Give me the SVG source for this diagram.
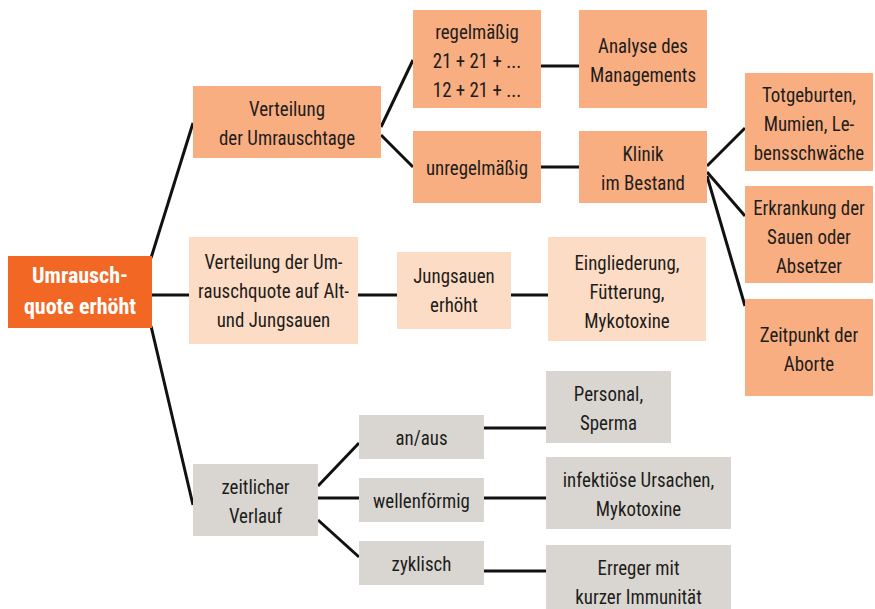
<svg xmlns="http://www.w3.org/2000/svg" width="875" height="609" viewBox="0 0 875 609">
<style>
.t{font-family:"Roboto Condensed","Liberation Sans Narrow","DejaVu Sans Condensed","Liberation Sans",sans-serif;font-size:21px;fill:#1d1d1b;text-anchor:middle;transform-box:fill-box;transform-origin:center;transform:scaleX(0.9)}
.w{font-family:"Roboto Condensed","Liberation Sans Narrow","Liberation Sans",sans-serif;font-size:22px;font-weight:bold;fill:#ffffff;text-anchor:middle}
.root{fill:#f26724}
.mid{fill:#f9ae82}
.light{fill:#fddcc5}
.grey{fill:#d9d6d1}
.c line{stroke:#111;stroke-width:3;stroke-linecap:butt}
</style>
<rect width="875" height="609" fill="#ffffff"/>
<g class="c" id="connectors">
<line x1="151" y1="258" x2="193" y2="123"/>
<line x1="152" y1="295" x2="189" y2="295"/>
<line x1="151" y1="326" x2="193" y2="505"/>
<line x1="381" y1="127" x2="413" y2="60"/>
<line x1="381" y1="135" x2="413" y2="167"/>
<line x1="541" y1="66" x2="579" y2="66"/>
<line x1="541" y1="167" x2="579" y2="167"/>
<line x1="707" y1="166" x2="745" y2="128"/>
<line x1="707" y1="172" x2="745" y2="216"/>
<line x1="707" y1="176" x2="745" y2="306"/>
<line x1="358" y1="295" x2="397" y2="295"/>
<line x1="511" y1="295" x2="548" y2="295"/>
<line x1="318" y1="486" x2="359" y2="443"/>
<line x1="318" y1="498" x2="359" y2="498"/>
<line x1="318" y1="520" x2="359" y2="557"/>
<line x1="484" y1="428" x2="546" y2="428"/>
<line x1="484" y1="498" x2="546" y2="498"/>
<line x1="484" y1="571" x2="546" y2="571"/>
</g>
<g id="root">
<rect class="root" x="8" y="256" width="144" height="72"/>
<text class="w" x="80" y="283">Umrausch-</text>
<text class="w" x="80" y="314">quote erhöht</text>
</g>
<g id="umrauschtage">
<rect class="mid" x="193" y="86" width="188" height="72"/>
<text class="t" x="287" y="116">Verteilung</text>
<text class="t" x="287" y="145">der Umrauschtage</text>
</g>
<g id="regelmaessig">
<rect class="mid" x="413" y="10" width="128" height="98"/>
<text class="t" x="477" y="39">regelmäßig</text>
<text class="t" x="477" y="68">21 + 21 + ...</text>
<text class="t" x="477" y="97">12 + 21 + ...</text>
</g>
<g id="analyse">
<rect class="mid" x="579" y="10" width="128" height="98"/>
<text class="t" x="643" y="53">Analyse des</text>
<text class="t" x="643" y="82">Managements</text>
</g>
<g id="unregelmaessig">
<rect class="mid" x="413" y="131" width="128" height="72"/>
<text class="t" x="477" y="175">unregelmäßig</text>
</g>
<g id="klinik">
<rect class="mid" x="579" y="131" width="128" height="72"/>
<text class="t" x="643" y="161">Klinik</text>
<text class="t" x="643" y="190">im Bestand</text>
</g>
<g id="totgeburten">
<rect class="mid" x="745" y="73" width="128" height="98"/>
<text class="t" x="809" y="102">Totgeburten,</text>
<text class="t" x="809" y="131">Mumien, Le-</text>
<text class="t" x="809" y="160">bensschwäche</text>
</g>
<g id="erkrankung">
<rect class="mid" x="745" y="186" width="128" height="97"/>
<text class="t" x="809" y="215">Erkrankung der</text>
<text class="t" x="809" y="244">Sauen oder</text>
<text class="t" x="809" y="273">Absetzer</text>
</g>
<g id="zeitpunkt">
<rect class="mid" x="745" y="299" width="128" height="97"/>
<text class="t" x="809" y="342">Zeitpunkt der</text>
<text class="t" x="809" y="371">Aborte</text>
</g>
<g id="umrauschquote">
<rect class="light" x="189" y="237" width="169" height="107"/>
<text class="t" x="273.5" y="269">Verteilung der Um-</text>
<text class="t" x="273.5" y="298">rauschquote auf Alt-</text>
<text class="t" x="273.5" y="327">und Jungsauen</text>
</g>
<g id="jungsauen">
<rect class="light" x="397" y="252" width="114" height="77"/>
<text class="t" x="454" y="283">Jungsauen</text>
<text class="t" x="454" y="312">erhöht</text>
</g>
<g id="eingliederung">
<rect class="light" x="548" y="237" width="158" height="104"/>
<text class="t" x="627" y="270">Eingliederung,</text>
<text class="t" x="627" y="299">Fütterung,</text>
<text class="t" x="627" y="328">Mykotoxine</text>
</g>
<g id="zeitlicher">
<rect class="grey" x="193" y="464" width="125" height="72"/>
<text class="t" x="255.5" y="494">zeitlicher</text>
<text class="t" x="255.5" y="523">Verlauf</text>
</g>
<g id="anaus">
<rect class="grey" x="359" y="415" width="125" height="44"/>
<text class="t" x="421.5" y="445">an/aus</text>
</g>
<g id="wellenfoermig">
<rect class="grey" x="359" y="478" width="125" height="44"/>
<text class="t" x="421.5" y="508">wellenförmig</text>
</g>
<g id="zyklisch">
<rect class="grey" x="359" y="541" width="125" height="44"/>
<text class="t" x="421.5" y="571">zyklisch</text>
</g>
<g id="personal">
<rect class="grey" x="546" y="371" width="125" height="72"/>
<text class="t" x="608.5" y="401">Personal,</text>
<text class="t" x="608.5" y="430">Sperma</text>
</g>
<g id="infektioese">
<rect class="grey" x="546" y="457" width="185" height="72"/>
<text class="t" x="638.5" y="487">infektiöse Ursachen,</text>
<text class="t" x="638.5" y="516">Mykotoxine</text>
</g>
<g id="erreger">
<rect class="grey" x="546" y="545" width="185" height="70"/>
<text class="t" x="638.5" y="575">Erreger mit</text>
<text class="t" x="638.5" y="604">kurzer Immunität</text>
</g>
</svg>
